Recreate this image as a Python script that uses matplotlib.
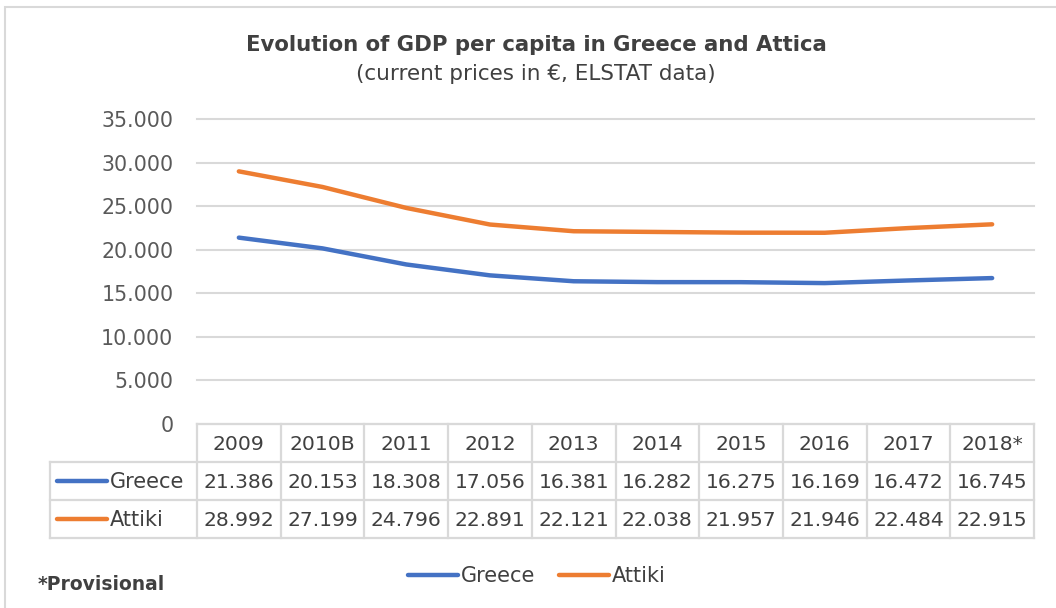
import matplotlib.pyplot as plt
from matplotlib.lines import Line2D
from matplotlib.patches import Rectangle

years = ['2009', '2010B', '2011', '2012', '2013', '2014', '2015', '2016', '2017', '2018*']
greece = [21386, 20153, 18308, 17056, 16381, 16282, 16275, 16169, 16472, 16745]
attiki = [28992, 27199, 24796, 22891, 22121, 22038, 21957, 21946, 22484, 22915]
series_names = ['Greece', 'Attiki']
colors = ['#4472C4', '#ED7D31']
yticks = [0, 5000, 10000, 15000, 20000, 25000, 30000, 35000]

W, H = 1056, 608
txt = '#404040'
grid = '#D9D9D9'
plt.rcParams['font.family'] = ['DejaVu Sans']

fig = plt.figure(figsize=(W / 100, H / 100), dpi=100)

# axes in pixel coords
x0, x1 = 197, 1034
y_top, y_zero = 119, 424
ax = fig.add_axes([x0 / W, 1 - y_zero / H, (x1 - x0) / W, (y_zero - y_top) / H])

n = len(years)
xs = list(range(n))
for vals, c in zip([greece, attiki], colors):
    ax.plot(xs, vals, color=c, lw=3.2, solid_capstyle='round', zorder=3)

ax.set_xlim(-0.5, n - 0.5)
ax.set_ylim(0, 35000)
ax.set_yticks(yticks)
ax.set_yticklabels(['0' if v == 0 else f'{v:,}'.replace(',', '.') for v in yticks],
                   fontsize=14.8, color='#595959')
ax.tick_params(axis='y', length=0, pad=17)
ax.set_xticks([])
ax.grid(axis='y', color=grid, lw=1.5)
for gl in ax.get_ygridlines():
    gl.set_clip_on(False)
for s in ax.spines.values():
    s.set_visible(False)

# data table (pixel helpers)
def fx(px):
    return px / W

def fy(py):
    return 1 - py / H

col_w = (x1 - x0) / n
rows = [424, 462, 500, 538]
lab_x = 50
lc = dict(color=grid, lw=1.6, transform=fig.transFigure)

# horizontal lines
fig.add_artist(Line2D([fx(x0), fx(x1)], [fy(rows[0])] * 2, **lc))
for r in rows[1:]:
    fig.add_artist(Line2D([fx(lab_x), fx(x1)], [fy(r)] * 2, **lc))
# vertical lines
for i in range(n + 1):
    xp = x0 + i * col_w
    fig.add_artist(Line2D([fx(xp)] * 2, [fy(rows[0]), fy(rows[3])], **lc))
fig.add_artist(Line2D([fx(lab_x)] * 2, [fy(rows[1]), fy(rows[3])], **lc))

for i, y in enumerate(years):
    xc = x0 + (i + 0.5) * col_w
    fig.text(fx(xc), fy((rows[0] + rows[1]) / 2 + 1), y, ha='center', va='center',
             fontsize=14.6, color=txt)
    for j, vals in enumerate([greece, attiki]):
        fig.text(fx(xc), fy((rows[j + 1] + rows[j + 2]) / 2 + 1),
                 f'{vals[i]:,}'.replace(',', '.'), ha='center', va='center',
                 fontsize=14.6, color=txt)

for j, (name, c) in enumerate(zip(series_names, colors)):
    yc = (rows[j + 1] + rows[j + 2]) / 2
    fig.add_artist(Line2D([fx(57), fx(107)], [fy(yc)] * 2, color=c, lw=3.2,
                          solid_capstyle='round', transform=fig.transFigure))
    fig.text(fx(110), fy(yc + 1), name, ha='left', va='center', fontsize=15, color=txt)

# legend
for name, c, lx in zip(series_names, colors, [408, 559]):
    fig.add_artist(Line2D([fx(lx), fx(lx + 50)], [fy(575)] * 2, color=c, lw=3.2,
                          solid_capstyle='round', transform=fig.transFigure))
    fig.text(fx(lx + 53), fy(576), name, ha='left', va='center', fontsize=15, color=txt)

fig.text(fx(38), fy(585), '*Provisional', ha='left', va='center', fontsize=13.5,
         fontweight='bold', color=txt)

# titles
fig.text(fx(536), fy(45), 'Evolution of GDP per capita in Greece and Attica',
         ha='center', va='center', fontsize=15.3, fontweight='bold', color=txt)
fig.text(fx(536), fy(74), '(current prices in €, ELSTAT data)',
         ha='center', va='center', fontsize=15.5, color=txt)

# chart border
fig.add_artist(Rectangle((fx(5), fy(700)), fx(1100), fy(7) - fy(700), fill=False,
                         ec='#D9D9D9', lw=1.5, transform=fig.transFigure))

fig.savefig('out.png', dpi=100)
